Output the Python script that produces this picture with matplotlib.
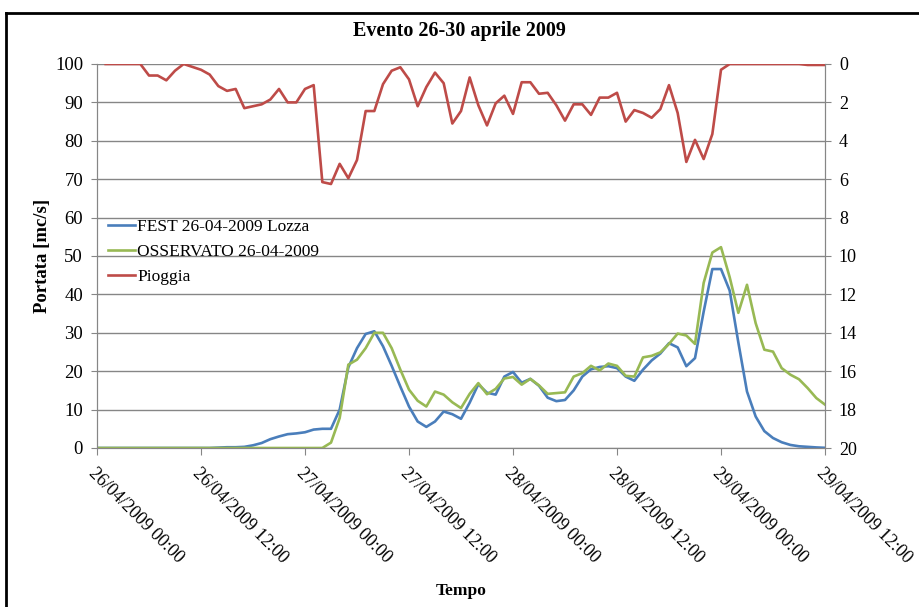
import numpy as np
import matplotlib
matplotlib.use("Agg")
import matplotlib.pyplot as plt
from matplotlib.lines import Line2D

plt.rcParams['font.family'] = ['Liberation Serif', 'DejaVu Serif']

# hourly values, 26/04/2009 00:00 -> 29/04/2009 12:00
hours = np.arange(85)
fest = [0, 0, 0, 0, 0, 0, 0, 0, 0, 0, 0, 0, 0, 0,
        0.1, 0.2, 0.2, 0.3, 0.7, 1.3, 2.3, 3.0, 3.6, 3.8, 4.1, 4.8, 5.0, 5.0,
        10.0, 21.0, 26.0, 29.7, 30.4, 26.5, 21.4, 16.0, 10.8, 6.9, 5.5, 6.9,
        9.5, 8.8, 7.6, 11.8, 16.6, 14.4, 13.9, 18.6, 19.8, 17.0, 18.0, 16.2,
        13.1, 12.2, 12.5, 15.0, 18.6, 20.5, 21.1, 21.3, 20.8, 18.6, 17.5, 20.4,
        22.8, 24.6, 27.3, 26.2, 21.3, 23.4, 35.5, 46.6, 46.6, 41.0, 27.5, 14.7,
        8.2, 4.4, 2.6, 1.5, 0.8, 0.45, 0.3, 0.15, 0.05]
osservato = [0] * 27 + [
        1.4, 7.8, 21.7, 23.0, 26.0, 30.0, 30.0, 26.0, 20.4, 15.2, 12.3, 10.8,
        14.7, 13.9, 11.9, 10.4, 14.1, 16.9, 14.0, 15.4, 18.1, 18.5, 16.5, 18.0,
        16.3, 14.1, 14.3, 14.5, 18.6, 19.5, 21.4, 20.2, 22.0, 21.4, 18.8, 18.6,
        23.6, 24.0, 24.9, 27.1, 29.8, 29.3, 27.1, 43.0, 50.9, 52.3, 44.5, 35.2,
        42.5, 32.5, 25.6, 25.1, 20.8, 19.1, 17.9, 15.6, 13.0, 11.3]
# rain from 01:00
rain_hours = np.arange(1, 85)
pioggia = [0, 0, 0, 0, 0, 0.6, 0.6, 0.85, 0.35, 0.0, 0.15, 0.3, 0.55, 1.15,
           1.4, 1.3, 2.3, 2.2, 2.1, 1.85, 1.3, 2.0, 2.0, 1.3, 1.1, 6.15, 6.25,
           5.2, 5.95, 5.0, 2.45, 2.45, 1.05, 0.35, 0.17, 0.8, 2.2, 1.2, 0.45,
           1.0, 3.1, 2.45, 0.7, 2.15, 3.2, 2.05, 1.65, 2.6, 0.95, 0.95, 1.55,
           1.5, 2.15, 2.95, 2.1, 2.1, 2.65, 1.75, 1.75, 1.5, 3.0, 2.4, 2.55,
           2.8, 2.35, 1.1, 2.55, 5.1, 3.95, 4.95, 3.65, 0.3, 0, 0, 0, 0, 0, 0,
           0, 0, 0, 0.05, 0.05, 0.05]
tick_pos = [0, 12, 24, 36, 48, 60, 72, 84]
tick_labels = ['26/04/2009 00:00', '26/04/2009 12:00', '27/04/2009 00:00',
               '27/04/2009 12:00', '28/04/2009 00:00', '28/04/2009 12:00',
               '29/04/2009 00:00', '29/04/2009 12:00']

blue = '#4A7EBB'
green = '#98B954'
red = '#BE4B48'
gray = '#868686'

fig = plt.figure(figsize=(9.19, 6.07), dpi=100)
ax = fig.add_axes([97 / 919, 1 - 448 / 607, 728 / 919, 384 / 607])
ax2 = ax.twinx()

l1, = ax.plot(hours, fest, color=blue, lw=1.9, label='FEST 26-04-2009 Lozza')
l2, = ax.plot(hours, osservato, color=green, lw=1.9, label='OSSERVATO 26-04-2009')
l3, = ax2.plot(rain_hours, pioggia, color=red, lw=1.9, label='Pioggia')

ax.set_xlim(0, 84)
ax.set_ylim(0, 100)
ax.set_yticks(range(0, 101, 10))
ax2.set_ylim(20, 0)
ax2.set_yticks(range(0, 21, 2))
ax.grid(axis='y', color=gray, lw=1)
ax.set_axisbelow(True)

ax.set_xticks(tick_pos)
ax.set_xticklabels(tick_labels, rotation=-45, ha='left', va='top',
                   rotation_mode='anchor', fontsize=13)
ax.tick_params(axis='x', length=5, color=gray, pad=7)
ax.tick_params(axis='y', length=4, color=gray, labelsize=13.5, pad=6)
ax2.tick_params(axis='y', length=4, color=gray, labelsize=13, pad=6)

for a in (ax, ax2):
    a.spines['top'].set_visible(False)
    for s in ('left', 'right', 'bottom'):
        a.spines[s].set_color(gray)

ax.set_xlabel('Tempo', fontsize=12.5, fontweight='bold', labelpad=12)
ax.set_ylabel('Portata [mc/s]', fontsize=13.5, fontweight='bold', labelpad=3)
fig.text(0.5, 1 - 31 / 607, 'Evento 26-30 aprile 2009', ha='center',
         va='center', fontsize=14.5, fontweight='bold')

ax.legend(handles=[l1, l2, l3], loc='upper left', bbox_to_anchor=(0.005, 0.615),
          frameon=False, fontsize=12.5, handlelength=1.6, handletextpad=0.1,
          labelspacing=0.5, borderaxespad=0)

# chart frame
fig.add_artist(Line2D([6 / 919, 6 / 919], [0, 1 - 13 / 607], color='black', lw=2))
fig.add_artist(Line2D([6 / 919, 1], [1 - 13 / 607, 1 - 13 / 607], color='black', lw=2))

fig.savefig('out.png', dpi=100)
